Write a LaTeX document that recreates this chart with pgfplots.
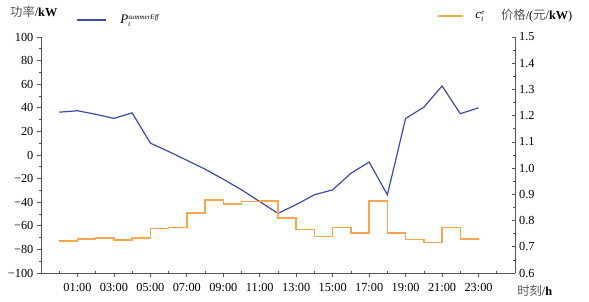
\documentclass[border=0pt]{standalone}
\usepackage{pgfplots}
\pgfplotsset{compat=1.18}
\usepackage{amstext}
\usepackage{fontspec}
\setmainfont{Liberation Serif}
\newfontfamily\cjk{Noto Sans CJK SC}
\definecolor{bluel}{HTML}{3C4CA8}
\definecolor{orangel}{HTML}{F8A64E}
\definecolor{axgray}{HTML}{555555}
\definecolor{labgray}{HTML}{555555}
\newcommand{\sm}[1]{\text{\fontsize{7bp}{8bp}\selectfont\itshape #1}}
\begin{document}
\fontsize{12bp}{14bp}\selectfont
\begin{tikzpicture}
\path[use as bounding box] (0,0) rectangle (589bp,302bp);
\begin{axis}[
  at={(41bp,29bp)}, anchor=south west,
  scale only axis, width=474bp, height=236bp,
  xmin=-1, xmax=25, ymin=-100, ymax=100,
  axis x line*=bottom, axis y line*=left,
  axis line style={axgray, line width=0.9bp},
  every tick/.style={axgray, line width=0.7bp},
  xtick={1,3,...,23},
  xticklabels={01:00,03:00,05:00,07:00,09:00,11:00,13:00,15:00,17:00,19:00,21:00,23:00},
  minor xtick={0,2,...,24},
  ytick={-100,-80,...,100},
  yticklabels={−100,−80,−60,−40,−20,0,20,40,60,80,100},
  minor ytick={-90,-70,...,90},
  tick align=outside,
  major tick length=3.5bp, minor tick length=2.2bp,
  minor x tick style={yshift=2.2bp},
  tick label style={font=\fontsize{12.3bp}{14bp}\selectfont, black},
  xticklabel style={yshift=-3bp},
  every axis y label/.style={at={(axis description cs:-0.0738,1.106)}, anchor=west},
  every axis x label/.style={at={(axis description cs:0.996,-0.076)}, anchor=west},
  ylabel={{\cjk\color{labgray}功率}/\textbf{kW}},
  xlabel={{\cjk\color{labgray}时刻}/\textbf{h}},
  label style={font=\fontsize{12.3bp}{14bp}\selectfont},
  legend style={at={(axis description cs:0.0738,1.072)}, anchor=west, draw=none, fill=none,
    inner sep=0pt, font=\fontsize{13bp}{14bp}\selectfont, /tikz/every odd column/.style={column sep=12bp}},
  legend image code/.code={\draw[#1] (0bp,0bp) -- (29bp,0bp);},
]
\addplot[bluel, line width=1.2bp] coordinates {
(0,36.3) (1,37.5) (2,34.5) (3,31) (4,35.7) (5,10) (6,3) (7,-4.5) (8,-12) (9,-20.5)
(10,-29.5) (11,-39.5) (12,-49.5) (13,-42) (14,-33.7) (15,-29.5) (16,-15.5) (17,-6)
(18,-33.7) (19,31) (20,40.5) (21,58.5) (22,35) (23,40)
};
\addlegendentry{\textit{P}$_{\sm{t}}^{\sm{summerEff}}$}
\end{axis}
\begin{axis}[
  at={(41bp,29bp)}, anchor=south west,
  scale only axis, width=474bp, height=236bp,
  xmin=-1, xmax=25, ymin=0.6, ymax=1.5,
  axis x line=none, axis y line*=right,
  axis line style={axgray, line width=0.9bp},
  every tick/.style={axgray, line width=0.7bp},
  ytick={0.6,0.7,...,1.5},
  yticklabels={0.6,0.7,0.8,0.9,1.0,1.1,1.2,1.3,1.4,1.5},
  minor ytick={0.65,0.75,...,1.45},
  tick align=inside,
  major tick length=3.5bp, minor tick length=2.2bp,
  tick label style={font=\fontsize{12.3bp}{14bp}\selectfont, black},
  every axis y label/.style={at={(axis description cs:0.962,1.089)}, anchor=west},
  ylabel={{\cjk\color{labgray}价格}/({\cjk\color{labgray}元}/\textbf{kW})},
  label style={font=\fontsize{12.3bp}{14bp}\selectfont},
  legend style={at={(axis description cs:0.835,1.089)}, anchor=west, draw=none, fill=none,
    inner sep=0pt, font=\fontsize{13bp}{14bp}\selectfont, /tikz/every odd column/.style={column sep=10bp}},
  legend image code/.code={\draw[#1] (0bp,0bp) -- (25bp,0bp);},
]
\addplot[orangel, line width=1.5bp, const plot] coordinates {
(0,0.722) (1,0.729) (2,0.733) (3,0.726) (4,0.734) (5,0.770) (6,0.773) (7,0.828)
(8,0.878) (9,0.864) (10,0.872) (11,0.875) (12,0.810) (13,0.766) (14,0.740) (15,0.773)
(16,0.753) (17,0.875) (18,0.753) (19,0.727) (20,0.716) (21,0.773) (22,0.729) (23,0.729)
};
\addlegendentry{\textit{c}$_{\sm{t}}^{\sm{e}}$}
\end{axis}
\end{tikzpicture}
\end{document}
